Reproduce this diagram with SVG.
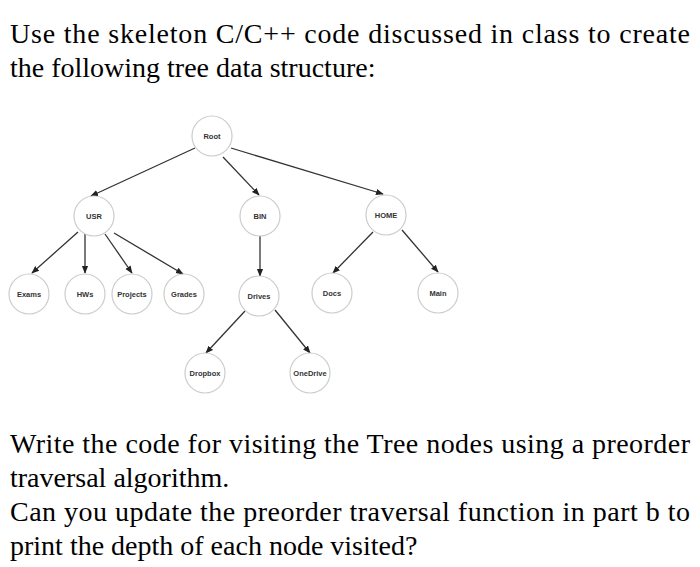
<svg xmlns="http://www.w3.org/2000/svg" width="700" height="567" viewBox="0 0 700 567">
<style>
.t{font-family:"Liberation Serif",serif;font-size:28px;fill:#000}
.n circle{fill:#fff;stroke:#ccc;stroke-width:1.2}
.n text{font-family:"Liberation Sans",Arial,sans-serif;font-size:7.5px;font-weight:bold;fill:#333;text-anchor:middle}
#edges line{stroke:#333;stroke-width:1.3;marker-end:url(#a)}
</style>
<defs><marker id="a" viewBox="0 0 10 10" refX="9" refY="5" markerWidth="6" markerHeight="6" orient="auto"><path d="M0,1 L10,5 L0,9 z" fill="#222"/></marker></defs>
<rect width="700" height="567" fill="#fff"/>
<text class="t" x="10" y="43" textLength="680" lengthAdjust="spacing">Use the skeleton C/C++ code discussed in class to create</text>
<text class="t" x="10" y="77">the following tree data structure:</text>
<text class="t" x="10" y="453" textLength="680" lengthAdjust="spacing">Write the code for visiting the Tree nodes using a preorder</text>
<text class="t" x="10" y="487">traversal algorithm.</text>
<text class="t" x="10" y="521" textLength="680" lengthAdjust="spacing">Can you update the preorder traversal function in part b to</text>
<text class="t" x="10" y="555">print the depth of each node visited?</text>
<g id="edges">
<line x1="195" y1="148" x2="91" y2="196"/>
<line x1="223" y1="157" x2="259" y2="195"/>
<line x1="231" y1="148" x2="383" y2="194"/>
<line x1="78" y1="232" x2="32" y2="273"/>
<line x1="85" y1="234" x2="85" y2="273"/>
<line x1="105" y1="234" x2="132" y2="273"/>
<line x1="114" y1="233" x2="183" y2="274"/>
<line x1="260" y1="236" x2="260" y2="276"/>
<line x1="373" y1="232" x2="333" y2="273"/>
<line x1="402" y1="230" x2="438" y2="272"/>
<line x1="245" y1="311" x2="206" y2="353"/>
<line x1="275" y1="310" x2="310" y2="353"/>
</g>
<g id="root" class="n"><circle cx="212" cy="136" r="20"/><text x="212" y="139">Root</text></g>
<g id="usr" class="n"><circle cx="94" cy="216" r="20"/><text x="94" y="219">USR</text></g>
<g id="bin" class="n"><circle cx="260" cy="216" r="20"/><text x="260" y="219">BIN</text></g>
<g id="home" class="n"><circle cx="386" cy="215" r="20"/><text x="386" y="218">HOME</text></g>
<g id="exams" class="n"><circle cx="29" cy="294" r="20"/><text x="29" y="297">Exams</text></g>
<g id="hws" class="n"><circle cx="85" cy="294" r="20"/><text x="85" y="297">HWs</text></g>
<g id="projects" class="n"><circle cx="132" cy="294" r="20"/><text x="132" y="297">Projects</text></g>
<g id="grades" class="n"><circle cx="184" cy="294" r="20"/><text x="184" y="297">Grades</text></g>
<g id="drives" class="n"><circle cx="259" cy="296" r="20"/><text x="259" y="299">Drives</text></g>
<g id="docs" class="n"><circle cx="332" cy="293" r="20"/><text x="332" y="296">Docs</text></g>
<g id="main" class="n"><circle cx="438" cy="293" r="20"/><text x="438" y="296">Main</text></g>
<g id="dropbox" class="n"><circle cx="205" cy="373" r="20"/><text x="205" y="376">Dropbox</text></g>
<g id="onedrive" class="n"><circle cx="310" cy="373" r="20"/><text x="310" y="376">OneDrive</text></g>
</svg>
